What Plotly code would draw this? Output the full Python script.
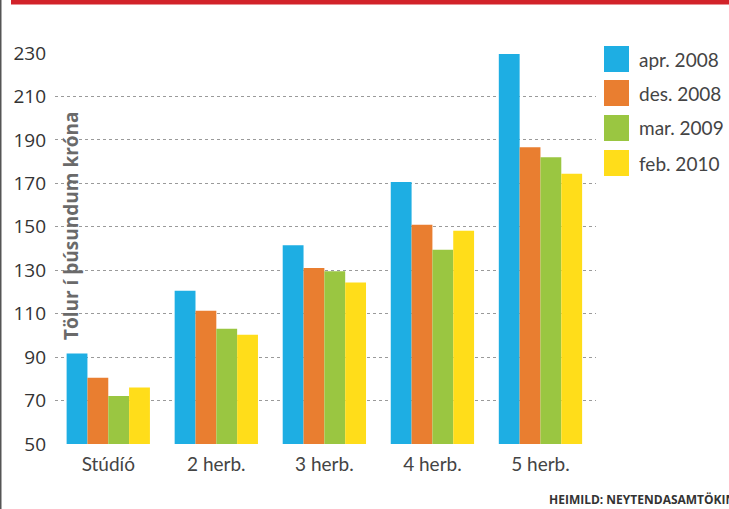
import plotly.graph_objects as go

categories = ["Stúdíó", "2 herb.", "3 herb.", "4 herb.", "5 herb."]
series_names = ["apr. 2008", "des. 2008", "mar. 2009", "feb. 2010"]
apr_2008 = [91.7, 120.6, 141.5, 170.6, 229.5]
des_2008 = [80.5, 111.4, 131.0, 150.9, 186.6]
mar_2009 = [72.1, 103.1, 129.5, 139.4, 182.0]
feb_2010 = [76.0, 100.3, 124.3, 148.2, 174.4]
series_values = [apr_2008, des_2008, mar_2009, feb_2010]
colors = ["#1EAEE3", "#E97E30", "#9AC641", "#FFDD1A"]
y_ticks = [50, 70, 90, 110, 130, 150, 170, 190, 210, 230]

W, H = 729, 509
ML, MR, MT, MB = 55, 133, 53, 65
PW, PH = W - ML - MR, H - MT - MB

def px_x(x):
    return (x - ML) / PW

def px_y(y):
    return (H - MB - y) / PH

fig = go.Figure()
for name, vals, col in zip(series_names, series_values, colors):
    fig.add_trace(go.Bar(x=categories, y=vals, name=name, marker=dict(color=col, line=dict(width=0)),
                         showlegend=False))

font_main = "Open Sans, Noto Sans, sans-serif"
font_label = "Lato, Open Sans, sans-serif"

fig.update_layout(
    width=W, height=H,
    margin=dict(l=ML, r=MR, t=MT, b=MB),
    paper_bgcolor="white", plot_bgcolor="white",
    barmode="group", bargap=0.229, bargroupgap=0,
    xaxis=dict(range=[-0.493, 4.514], showgrid=False, zeroline=False, showline=False,
               ticks="", tickfont=dict(family=font_label, size=19, color="#444"),
               ticklabelstandoff=7),
    yaxis=dict(range=[50, 230], tickvals=y_ticks, showgrid=True, gridcolor="#9a9a9a",
               gridwidth=1.2, griddash="dot", zeroline=False, showline=False, ticks="",
               tickfont=dict(family=font_main, size=19, color="#333"),
               ticklabelstandoff=8),
)

shapes = []
annotations = []
legend_tops = [46, 80, 115, 150]
for name, col, top in zip(series_names, colors, legend_tops):
    shapes.append(dict(type="rect", xref="paper", yref="paper",
                       x0=px_x(604), x1=px_x(629), y0=px_y(top + 26), y1=px_y(top),
                       fillcolor=col, line=dict(width=0)))
    annotations.append(dict(xref="paper", yref="paper", x=px_x(637), y=px_y(top + 13),
                            xanchor="left", yanchor="middle", text=name, showarrow=False,
                            font=dict(family=font_label, size=19, color="#444")))

# top red band and left border
shapes.append(dict(type="rect", xref="paper", yref="paper", x0=px_x(11), x1=px_x(729),
                   y0=px_y(4.5), y1=px_y(0), fillcolor="#D2232A", line=dict(width=0), layer="above"))
shapes.append(dict(type="rect", xref="paper", yref="paper", x0=px_x(0), x1=px_x(1.5),
                   y0=px_y(509), y1=px_y(0), fillcolor="#555555", line=dict(width=0)))

annotations.append(dict(xref="paper", yref="paper", x=px_x(71), y=px_y(226),
                        xanchor="center", yanchor="middle", textangle=-90,
                        text="<b>Tölur í þúsundum króna</b>", showarrow=False,
                        font=dict(family=font_main, size=19, color="#6a6a6a")))
annotations.append(dict(xref="paper", yref="paper", x=px_x(547), y=px_y(499),
                        xanchor="left", yanchor="middle",
                        text="<b>HEIMILD: NEYTENDASAMTÖKIN</b>", showarrow=False,
                        font=dict(family=font_main, size=12, color="#333")))

fig.update_layout(shapes=shapes, annotations=annotations)
fig.write_html("out.html", config={"displayModeBar": False},
               post_script="document.body.style.margin='0';document.body.style.overflow='hidden';")
